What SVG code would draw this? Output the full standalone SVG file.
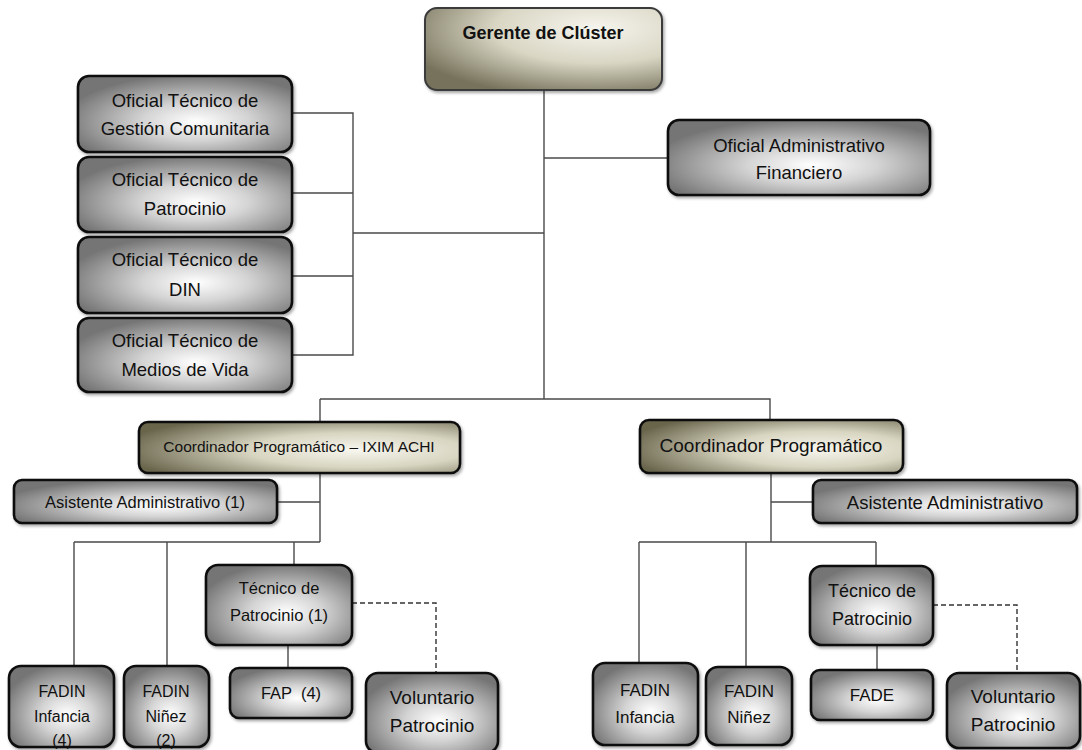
<svg xmlns="http://www.w3.org/2000/svg" width="1082" height="750" viewBox="0 0 1082 750">
<defs>
<radialGradient id="gGray" cx="0.55" cy="0.6" r="0.62">
<stop offset="0" stop-color="#ffffff"/>
<stop offset="0.4" stop-color="#d4d4d4"/>
<stop offset="1" stop-color="#757575"/>
</radialGradient>
<radialGradient id="gOlive" cx="0.68" cy="0.55" r="0.75">
<stop offset="0" stop-color="#f8f7ef"/>
<stop offset="0.45" stop-color="#d8d5c1"/>
<stop offset="1" stop-color="#69654c"/>
</radialGradient>
<radialGradient id="gTop" cx="0.72" cy="0.25" r="0.85">
<stop offset="0" stop-color="#f6f5ee"/>
<stop offset="0.5" stop-color="#d9d6c4"/>
<stop offset="1" stop-color="#76725b"/>
</radialGradient>
<filter id="sh" x="-10%" y="-10%" width="125%" height="130%">
<feDropShadow dx="1.5" dy="2" stdDeviation="1.5" flood-color="#000" flood-opacity="0.35"/>
</filter>
</defs>
<style>
.g{fill:url(#gGray);stroke:#111;stroke-width:2.6;filter:url(#sh)}
.o{fill:url(#gOlive);stroke:#111;stroke-width:2.6;filter:url(#sh)}
.t{fill:url(#gTop);stroke:#3a3a3a;stroke-width:2;filter:url(#sh)}
text{font-family:"Liberation Sans",Arial,sans-serif;fill:#111;text-anchor:middle}
.c{fill:none;stroke:#4a4a4a;stroke-width:1.4}
.d{fill:none;stroke:#333;stroke-width:1.4;stroke-dasharray:5 3}
</style>
<g id="connectors">
<path class="c" d="M544 90V399M320 399H770V420M320 399V422"/>
<path class="c" d="M292 113H353V355H292M292 193H353M292 276H353M353 233H544"/>
<path class="c" d="M544 158H668"/>
<path class="c" d="M320 473V542M277 502H320M74 542H320M74 542V666M167 542V666M294 542V565M288 645V668"/>
<path class="d" d="M352 603H436V673"/>
<path class="c" d="M771 473V542M771 502H813M639 542H876M639 542V663M746 542V667M876 542V566M877 645V670"/>
<path class="d" d="M933 605H1017V673"/>
</g>
<g id="gerente"><rect class="t" x="425" y="8" width="237" height="82" rx="12"/><text x="543" y="39" font-size="18" font-weight="bold">Gerente de Clúster</text></g>
<g id="oficial-gestion"><rect class="g" x="78" y="76" width="214" height="76" rx="11"/><text x="185" y="107" font-size="18.5">Oficial Técnico de</text><text x="185" y="135" font-size="18.5">Gestión Comunitaria</text></g>
<g id="oficial-patrocinio"><rect class="g" x="78" y="157" width="214" height="75" rx="11"/><text x="185" y="186" font-size="18.5">Oficial Técnico de</text><text x="185" y="215" font-size="18.5">Patrocinio</text></g>
<g id="oficial-din"><rect class="g" x="78" y="237" width="214" height="76" rx="11"/><text x="185" y="266" font-size="18.5">Oficial Técnico de</text><text x="185" y="296" font-size="18.5">DIN</text></g>
<g id="oficial-medios"><rect class="g" x="78" y="318" width="214" height="74" rx="11"/><text x="185" y="347" font-size="18.5">Oficial Técnico de</text><text x="185" y="376" font-size="18.5">Medios de Vida</text></g>
<g id="oficial-admin"><rect class="g" x="668" y="120" width="262" height="75" rx="11"/><text x="799" y="152" font-size="18.5">Oficial Administrativo</text><text x="799" y="179" font-size="18.5">Financiero</text></g>
<g id="coord-ixim"><rect class="o" x="139" y="422" width="321" height="51" rx="9"/><text x="299" y="452" font-size="15.5">Coordinador Programático – IXIM ACHI</text></g>
<g id="coord"><rect class="o" x="640" y="420" width="263" height="53" rx="9"/><text x="771" y="452" font-size="19">Coordinador Programático</text></g>
<g id="asist-1"><rect class="g" x="14" y="480" width="263" height="43" rx="8"/><text x="145" y="508" font-size="16.5">Asistente Administrativo (1)</text></g>
<g id="asist-2"><rect class="g" x="813" y="480" width="264" height="43" rx="8"/><text x="945" y="509" font-size="18.5">Asistente Administrativo</text></g>
<g id="tec-1"><rect class="g" x="206" y="565" width="146" height="80" rx="12"/><text x="279" y="594" font-size="16.5">Técnico de</text><text x="279" y="621" font-size="16.5">Patrocinio (1)</text></g>
<g id="fap"><rect class="g" x="230" y="668" width="122" height="50" rx="9"/><text x="291" y="699" font-size="16.5" style="white-space:pre">FAP  (4)</text></g>
<g id="vol-1"><rect class="g" x="366" y="673" width="132" height="80" rx="12"/><text x="432" y="704" font-size="19">Voluntario</text><text x="432" y="732" font-size="19">Patrocinio</text></g>
<g id="fadin-inf-1"><rect class="g" x="9" y="666" width="105" height="81" rx="12"/><text x="62" y="697" font-size="16">FADIN</text><text x="62" y="722" font-size="16">Infancia</text><text x="62" y="746" font-size="16">(4)</text></g>
<g id="fadin-nin-1"><rect class="g" x="124" y="666" width="85" height="81" rx="12"/><text x="166" y="697" font-size="16">FADIN</text><text x="166" y="722" font-size="16">Niñez</text><text x="166" y="746" font-size="16">(2)</text></g>
<g id="tec-2"><rect class="g" x="810" y="566" width="123" height="79" rx="12"/><text x="872" y="597" font-size="18">Técnico de</text><text x="872" y="625" font-size="18">Patrocinio</text></g>
<g id="fade"><rect class="g" x="811" y="670" width="122" height="50" rx="9"/><text x="872" y="701" font-size="17">FADE</text></g>
<g id="vol-2"><rect class="g" x="947" y="673" width="133" height="75" rx="12"/><text x="1013" y="703" font-size="19">Voluntario</text><text x="1013" y="731" font-size="19">Patrocinio</text></g>
<g id="fadin-inf-2"><rect class="g" x="593" y="663" width="105" height="82" rx="12"/><text x="645" y="696" font-size="17">FADIN</text><text x="645" y="723" font-size="17">Infancia</text></g>
<g id="fadin-nin-2"><rect class="g" x="706" y="667" width="86" height="78" rx="12"/><text x="749" y="697" font-size="17">FADIN</text><text x="749" y="723" font-size="17">Niñez</text></g>
</svg>
